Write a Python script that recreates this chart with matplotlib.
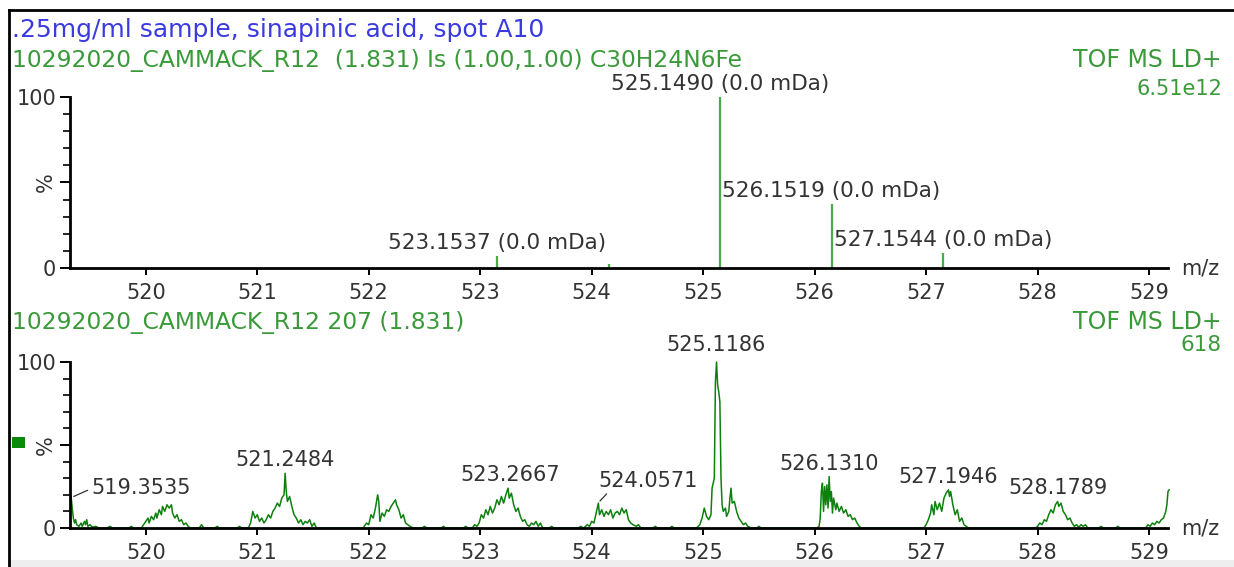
import matplotlib
matplotlib.use("Agg")
import matplotlib.pyplot as plt
from matplotlib.lines import Line2D
from matplotlib.patches import Rectangle
import numpy as np

# theoretical isotope pattern, C30H24N6Fe
iso_mz = [523.1537, 524.1550, 525.1490, 526.1519, 527.1544]
iso_pct = [7.0, 2.5, 100.0, 37.5, 8.5]
iso_labels = ["523.1537 (0.0 mDa)", None, "525.1490 (0.0 mDa)",
              "526.1519 (0.0 mDa)", "527.1544 (0.0 mDa)"]

# measured profile, scan 207
profile_mz = [
    519.32, 519.33, 519.34, 519.35, 519.36, 519.37, 519.38, 519.40, 519.42, 519.43,
    519.45, 519.46, 519.47, 519.48, 519.50, 519.52, 519.55, 519.58, 519.65, 519.68,
    519.70, 519.85, 519.87, 519.89,
    519.96, 519.98, 520.00, 520.02, 520.03, 520.05, 520.07, 520.09, 520.10, 520.12,
    520.14, 520.15, 520.17, 520.19, 520.21, 520.23, 520.24, 520.26, 520.28, 520.30,
    520.32, 520.34, 520.36, 520.38, 520.40, 520.48, 520.50, 520.52, 520.62, 520.64,
    520.66, 520.82, 520.84, 520.86,
    520.92, 520.94, 520.96, 520.98, 521.00, 521.02, 521.04, 521.06, 521.08, 521.10,
    521.12, 521.14, 521.16, 521.18, 521.20, 521.22, 521.24, 521.25, 521.26, 521.27,
    521.29, 521.31, 521.33, 521.35, 521.37, 521.39, 521.41, 521.43, 521.45, 521.47,
    521.49, 521.51, 521.53,
    521.95, 521.98, 522.00, 522.02, 522.04, 522.06, 522.08, 522.09, 522.10, 522.12,
    522.14, 522.16, 522.18, 522.20, 522.22, 522.24, 522.25, 522.27, 522.29, 522.31,
    522.33, 522.35, 522.37, 522.40, 522.48, 522.50, 522.52, 522.65, 522.67, 522.69,
    522.85, 522.87, 522.89,
    522.93, 522.95, 522.97, 522.99, 523.01, 523.03, 523.05, 523.07, 523.09, 523.11,
    523.13, 523.15, 523.17, 523.19, 523.21, 523.23, 523.25, 523.26, 523.28, 523.30,
    523.32, 523.34, 523.36, 523.38, 523.40, 523.42, 523.44, 523.46, 523.48, 523.50,
    523.52, 523.54, 523.56, 523.62, 523.64, 523.66,
    523.88, 523.90, 523.93, 523.96, 523.98, 524.00, 524.02, 524.04, 524.06, 524.07,
    524.09, 524.11, 524.13, 524.15, 524.17, 524.19, 524.21, 524.23, 524.25, 524.27,
    524.29, 524.31, 524.33, 524.35, 524.37, 524.40, 524.42, 524.44, 524.55, 524.57,
    524.59, 524.70, 524.72, 524.74,
    524.94, 524.97, 524.99, 525.01, 525.03, 525.05, 525.07, 525.08, 525.10, 525.11,
    525.12, 525.13, 525.14, 525.15, 525.16, 525.17, 525.18, 525.20, 525.21, 525.23,
    525.24, 525.25, 525.26, 525.28, 525.30, 525.32, 525.34, 525.36, 525.38, 525.40,
    525.43, 525.48, 525.50, 525.52,
    526.02, 526.04, 526.05, 526.06, 526.07, 526.08, 526.09, 526.10, 526.11, 526.12,
    526.13, 526.14, 526.15, 526.16, 526.17, 526.19, 526.20, 526.22, 526.24, 526.26,
    526.28, 526.30, 526.32, 526.34, 526.36, 526.38, 526.40, 526.42,
    526.98, 527.00, 527.02, 527.04, 527.05, 527.07, 527.08, 527.10, 527.12, 527.14,
    527.16, 527.18, 527.20, 527.21, 527.22, 527.24, 527.26, 527.28, 527.30, 527.32,
    527.34, 527.36, 527.38,
    527.98, 528.00, 528.02, 528.04, 528.06, 528.08, 528.10, 528.12, 528.14, 528.16,
    528.18, 528.19, 528.21, 528.23, 528.25, 528.27, 528.29, 528.31, 528.33, 528.35,
    528.37, 528.39, 528.41, 528.43, 528.45, 528.55, 528.57, 528.59, 528.70, 528.72,
    528.74, 528.85,
    528.97, 528.99, 529.01, 529.03, 529.05, 529.07, 529.09, 529.11, 529.13, 529.15,
    529.16, 529.17, 529.18,
]
profile_pct = [
    17, 19, 12, 6, 3, 5, 2, 1, 3, 1,
    4, 2, 5, 1, 2, 0.5, 1, 0, 0, 1,
    0, 0, 1, 0,
    0, 2, 4, 6, 3, 7, 5, 9, 6, 11,
    8, 13, 10, 14, 12, 14, 9, 6, 8, 4,
    5, 2, 3, 1, 0, 0, 2, 0, 0, 1,
    0, 0, 1, 0,
    0, 3, 10, 6, 8, 4, 6, 3, 5, 8,
    6, 10, 12, 15, 13, 18, 20, 33, 22, 16,
    19, 13, 8, 6, 3, 5, 2, 4, 3, 5,
    1, 3, 0,
    0, 3, 2, 8, 6, 12, 20, 16, 4, 9,
    7, 11, 10, 13, 15, 17, 14, 11, 6, 8,
    3, 2, 1, 0, 0, 1, 0, 0, 1, 0,
    0, 1, 0,
    0, 2, 1, 3, 8, 6, 11, 8, 13, 9,
    12, 17, 14, 19, 15, 20, 24, 18, 21, 14,
    10, 12, 7, 4, 5, 2, 1, 3, 2, 4,
    1, 3, 0, 0, 1, 0,
    0, 1, 0, 2, 1, 4, 3, 9, 15, 8,
    11, 7, 10, 8, 11, 6, 9, 10, 8, 12,
    9, 11, 5, 3, 2, 1, 2, 0, 0, 1,
    0, 0, 1, 0,
    0, 2, 6, 12, 7, 5, 8, 24, 30, 88,
    100, 86, 82, 76, 30, 14, 10, 12, 7, 10,
    18, 24, 15, 16, 10, 6, 4, 2, 3, 1,
    0, 0, 1, 0,
    0, 1, 6, 22, 27, 10, 25, 14, 26, 12,
    31, 16, 22, 9, 18, 11, 15, 10, 13, 9,
    11, 7, 8, 5, 6, 3, 1, 0,
    0, 2, 5, 9, 14, 8, 16, 11, 15, 10,
    18, 21, 23, 19, 22, 14, 8, 11, 4, 6,
    2, 1, 0,
    0, 1, 3, 2, 5, 4, 8, 11, 9, 14,
    16, 13, 15, 10, 8, 5, 6, 3, 1, 2,
    0.5, 2, 1, 2, 0, 0, 1, 0, 0, 1,
    0, 0,
    0, 2, 1, 3, 2, 4, 3, 5, 6, 10,
    14, 22, 23,
]

# labelled centroids of the measured spectrum
peak_mz = [519.3535, 521.2484, 523.2667, 524.0571, 525.1186, 526.1310, 527.1946, 528.1789]
peak_pct = [19, 33, 24, 15, 100, 31, 23, 16]

xticks = list(range(520, 530))
xmin, xmax = 519.32, 529.17

W, H = 1234, 567
TXT = "#333333"
HEAD_GREEN = "#3a9a3a"
STICK_GREEN = "#4aab4a"
TRACE_GREEN = "#0e800e"
FS = 15

plt.rcParams["font.family"] = ["DejaVu Sans"]

fig = plt.figure(figsize=(W / 100, H / 100), dpi=100)


def fx(px):
    return px / W


def fy(py):
    return 1 - py / H


def setup(ax):
    ax.set_xlim(xmin, xmax)
    ax.set_ylim(0, 100)
    for s in ("top", "right"):
        ax.spines[s].set_visible(False)
    for s in ("left", "bottom"):
        ax.spines[s].set_linewidth(2.0)
        ax.spines[s].set_color("black")
    ax.set_xticks(xticks)
    ax.set_xticklabels([str(t) for t in xticks], fontsize=FS, color=TXT)
    ax.tick_params(axis="x", direction="out", length=5, width=1.4, pad=6)
    ax.set_yticks([0, 50, 100])
    ax.set_yticklabels(["0", "%", "100"], fontsize=FS, color=TXT)
    ax.get_yticklabels()[1].set_rotation(90)
    ax.get_yticklabels()[1].set_va("center")
    ax.set_yticks([v for v in range(10, 100, 10) if v != 50], minor=True)
    ax.tick_params(axis="y", which="major", direction="out", length=7, width=1.4, pad=3)
    ax.tick_params(axis="y", which="minor", direction="out", length=5, width=1.2)
    ax.text(529.29, 0, "m/z", ha="left", va="center", fontsize=FS, color=TXT,
            clip_on=False)
    ax.patch.set_alpha(0)


ax1 = fig.add_axes([fx(70), fy(268), fx(1168) - fx(70), (268 - 97) / H])
setup(ax1)
ax1.vlines(iso_mz, 0, iso_pct, color=STICK_GREEN, lw=1.6, clip_on=False)
for m, p, lab in zip(iso_mz, iso_pct, iso_labels):
    if lab:
        ax1.annotate(lab, xy=(m, p), xytext=(0, 3), textcoords="offset pixels",
                     ha="center", va="bottom", fontsize=15.5, color=TXT)

ax2 = fig.add_axes([fx(70), fy(528), fx(1168) - fx(70), (528 - 362) / H])
setup(ax2)
ax2.plot(profile_mz, profile_pct, color=TRACE_GREEN, lw=1.1, clip_on=False)
for m, p in zip(peak_mz, peak_pct):
    lab = f"{m:.4f}"
    if m < 520:
        ax2.annotate(lab, xy=(m, p), xytext=(18, 8), textcoords="offset pixels",
                     ha="left", va="center", fontsize=FS, color=TXT,
                     arrowprops=dict(arrowstyle="-", color=TXT, lw=0.9,
                                     relpos=(0, 0.5), shrinkA=1, shrinkB=0))
    elif abs(m - 524.0571) < 1e-6:
        ax2.annotate(lab, xy=(m, p), xytext=(0, 22), textcoords="offset pixels",
                     ha="left", va="center", fontsize=FS, color=TXT,
                     arrowprops=dict(arrowstyle="-", color=TXT, lw=0.9,
                                     relpos=(0.14, 0.15), shrinkA=0, shrinkB=2))
    else:
        off = 7 if p >= 100 else 3
        ax2.annotate(lab, xy=(m, p), xytext=(0, off), textcoords="offset pixels",
                     ha="center", va="bottom", fontsize=FS, color=TXT)

# header lines
fig.text(fx(12), fy(30), ".25mg/ml sample, sinapinic acid, spot A10",
         ha="left", va="center", fontsize=18, color="#3a3ae0")
fig.text(fx(12), fy(60), "10292020_CAMMACK_R12  (1.831) Is (1.00,1.00) C30H24N6Fe",
         ha="left", va="center", fontsize=16.8, color=HEAD_GREEN)
fig.text(fx(1222), fy(60), "TOF MS LD+", ha="right", va="center", fontsize=17,
         color=HEAD_GREEN)
fig.text(fx(1222), fy(89), "6.51e12", ha="right", va="center", fontsize=FS,
         color=HEAD_GREEN)
fig.text(fx(12), fy(322), "10292020_CAMMACK_R12 207 (1.831)",
         ha="left", va="center", fontsize=16.8, color=HEAD_GREEN)
fig.text(fx(1222), fy(322), "TOF MS LD+", ha="right", va="center", fontsize=17,
         color=HEAD_GREEN)
fig.text(fx(1222), fy(345), "618", ha="right", va="center", fontsize=15.5,
         color=HEAD_GREEN)

# window frame and marker
fig.add_artist(Line2D([fx(9), fx(9)], [fy(10), 0], color="black", lw=2.0))
fig.add_artist(Line2D([fx(9), 1], [fy(10), fy(10)], color="black", lw=2.0))
fig.add_artist(Rectangle((fx(10), 0), 1 - fx(10), 7 / H, color="#eeeeee", lw=0))
fig.add_artist(Rectangle((fx(12), fy(448)), 13 / W, 11 / H, color="#0a8a0a", lw=0))

fig.savefig("out.png", dpi=100)
